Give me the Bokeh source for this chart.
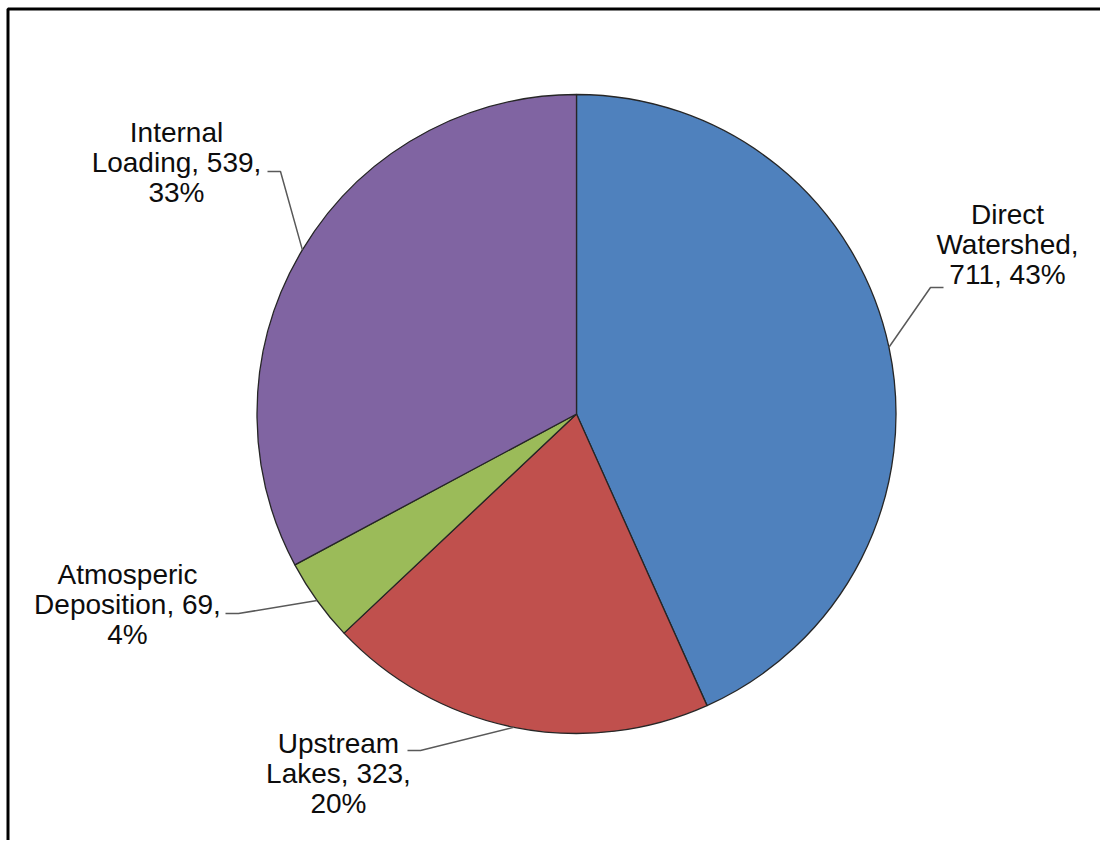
import math
from bokeh.plotting import figure
from bokeh.models import Range1d, ColumnDataSource
from bokeh.core.properties import value
from bokeh.embed import file_html
from bokeh.resources import INLINE

# ---- data ----
categories = ["Direct Watershed", "Upstream Lakes", "Atmosperic Deposition", "Internal Loading"]
values = [711, 323, 69, 539]
percents = ["43%", "20%", "4%", "33%"]
label_texts = [
    "Direct\nWatershed,\n711, 43%",
    "Upstream\nLakes, 323,\n20%",
    "Atmosperic\nDeposition, 69,\n4%",
    "Internal\nLoading, 539,\n33%",
]
colors = ["#4F81BD", "#C0504D", "#9BBB59", "#8064A2"]

# ---- layout (pixel-like coordinates, y = -row) ----
CX, CY, R = 576, -413.5, 319.5
label_centers = [(1007, -244), (338, -773), (127, -604), (176, -162)]
leader_ends = [(943, -287), (407, -750), (225, -613), (267, -171)]
elbow_len = [-13, 13, 13, 13]

W, H = 1100, 840
p = figure(width=W, height=H, output_backend="svg", toolbar_location=None,
           x_range=Range1d(0, W), y_range=Range1d(-H, 0),
           min_border=0, outline_line_color=None)
p.axis.visible = False
p.grid.visible = False
p.background_fill_color = "white"
p.border_fill_color = "white"

total = sum(values)
starts, ends, mids = [], [], []
cum = 0.0
for v in values:
    a0 = math.pi / 2 - 2 * math.pi * cum / total
    cum += v
    a1 = math.pi / 2 - 2 * math.pi * cum / total
    starts.append(a0)
    ends.append(a1)
    mids.append((a0 + a1) / 2)

src = ColumnDataSource(dict(start=starts, end=ends, color=colors, cat=categories))
p.wedge(x=CX, y=CY, radius=R, start_angle="start", end_angle="end",
        direction="clock", fill_color="color", line_color="#262626",
        line_width=1.3, source=src)

# leader lines
for m, (ex, ey), el in zip(mids, leader_ends, elbow_len):
    px = CX + R * math.cos(m)
    py = CY + R * math.sin(m)
    p.line([px, ex + el, ex], [py, ey, ey], line_color="#595959", line_width=1.5)

# labels
lx = [c[0] for c in label_centers]
ly = [c[1] for c in label_centers]
p.text(x=lx, y=ly, text=label_texts, text_align="center", text_baseline="middle",
       text_font=value("Liberation Sans"), text_font_size="28px",
       text_color="#0d0d0d", text_line_height=0.98)

# frame (top and left edges visible in reference)
p.line([7.5, 7.5, W], [-H, -8.5, -8.5], line_color="black", line_width=3)

open("out.html", "w").write(file_html(p, INLINE))
